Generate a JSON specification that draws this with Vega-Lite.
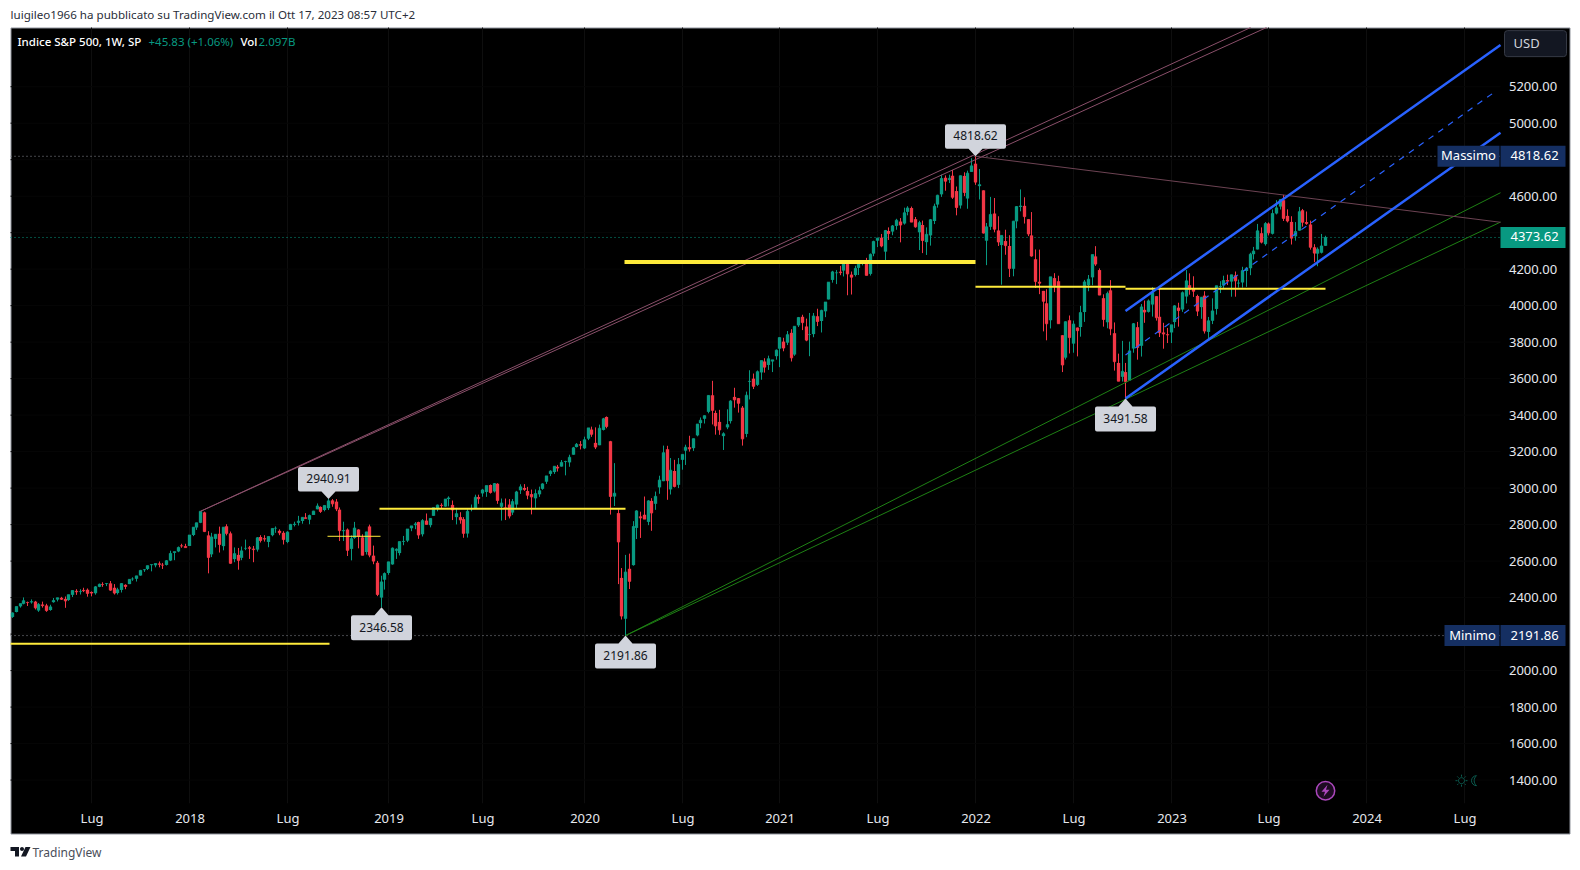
{"$schema":"https://vega.github.io/schema/vega-lite/v6.json","width":1559,"height":806,"autosize":"none","padding":{"left":10.5,"top":27.5,"right":10.5,"bottom":36.5},"background":"#ffffff","config":{"view":{"fill":"#000000","stroke":"#8f939c","strokeWidth":1},"font":"Noto Sans"},"title":{"text":"luigileo1966 ha pubblicato su TradingView.com il Ott 17, 2023 08:57 UTC+2","anchor":"start","frame":"group","offset":5,"fontSize":11.6,"fontWeight":"normal","color":"#2a2e39","font":"Noto Sans"},
"datasets":{
"candles":[
{"d":"2017-02-06","o":2294,"h":2319,"l":2289,"c":2316},{"d":"2017-02-13","o":2321,"h":2351,"l":2319,"c":2351},{"d":"2017-02-20","o":2352,"h":2367,"l":2345,"c":2367},{"d":"2017-02-27","o":2366,"h":2401,"l":2363,"c":2383},{"d":"2017-03-06","o":2375,"h":2378,"l":2354,"c":2373},{"d":"2017-03-13","o":2374,"h":2390,"l":2367,"c":2378},{"d":"2017-03-20","o":2378,"h":2382,"l":2335,"c":2344},{"d":"2017-03-27","o":2329,"h":2370,"l":2322,"c":2363},{"d":"2017-04-03","o":2362,"h":2378,"l":2345,"c":2356},{"d":"2017-04-10","o":2357,"h":2366,"l":2322,"c":2329},{"d":"2017-04-17","o":2332,"h":2361,"l":2328,"c":2349},{"d":"2017-04-24","o":2375,"h":2398,"l":2372,"c":2384},{"d":"2017-05-01","o":2389,"h":2400,"l":2379,"c":2399},{"d":"2017-05-08","o":2399,"h":2404,"l":2387,"c":2391},{"d":"2017-05-15","o":2393,"h":2406,"l":2344,"c":2382},{"d":"2017-05-22","o":2387,"h":2416,"l":2382,"c":2416},{"d":"2017-05-29","o":2415,"h":2440,"l":2403,"c":2439},{"d":"2017-06-05","o":2437,"h":2446,"l":2415,"c":2432},{"d":"2017-06-12","o":2432,"h":2446,"l":2417,"c":2433},{"d":"2017-06-19","o":2442,"h":2454,"l":2430,"c":2438},{"d":"2017-06-26","o":2443,"h":2450,"l":2405,"c":2423},{"d":"2017-07-03","o":2431,"h":2434,"l":2407,"c":2425},{"d":"2017-07-10","o":2424,"h":2463,"l":2416,"c":2459},{"d":"2017-07-17","o":2459,"h":2477,"l":2457,"c":2473},{"d":"2017-07-24","o":2473,"h":2484,"l":2459,"c":2472},{"d":"2017-07-31","o":2475,"h":2480,"l":2463,"c":2477},{"d":"2017-08-07","o":2478,"h":2491,"l":2437,"c":2441},{"d":"2017-08-14","o":2454,"h":2474,"l":2417,"c":2425},{"d":"2017-08-21","o":2425,"h":2454,"l":2417,"c":2443},{"d":"2017-08-28","o":2442,"h":2480,"l":2428,"c":2477},{"d":"2017-09-04","o":2470,"h":2473,"l":2446,"c":2461},{"d":"2017-09-11","o":2474,"h":2501,"l":2474,"c":2500},{"d":"2017-09-18","o":2502,"h":2511,"l":2492,"c":2502},{"d":"2017-09-25","o":2503,"h":2520,"l":2488,"c":2519},{"d":"2017-10-02","o":2521,"h":2552,"l":2520,"c":2549},{"d":"2017-10-09","o":2551,"h":2556,"l":2541,"c":2553},{"d":"2017-10-16","o":2557,"h":2576,"l":2551,"c":2575},{"d":"2017-10-23","o":2578,"h":2582,"l":2544,"c":2581},{"d":"2017-10-30","o":2577,"h":2588,"l":2566,"c":2587},{"d":"2017-11-06","o":2587,"h":2598,"l":2566,"c":2582},{"d":"2017-11-13","o":2579,"h":2590,"l":2557,"c":2578},{"d":"2017-11-20","o":2579,"h":2606,"l":2576,"c":2602},{"d":"2017-11-27","o":2603,"h":2657,"l":2600,"c":2642},{"d":"2017-12-04","o":2645,"h":2652,"l":2605,"c":2652},{"d":"2017-12-11","o":2653,"h":2680,"l":2649,"c":2675},{"d":"2017-12-18","o":2685,"h":2695,"l":2673,"c":2683},{"d":"2017-12-25","o":2682,"h":2695,"l":2673,"c":2674},
{"d":"2018-01-01","o":2683,"h":2743,"l":2683,"c":2743},{"d":"2018-01-08","o":2743,"h":2787,"l":2737,"c":2786},{"d":"2018-01-15","o":2784,"h":2811,"l":2771,"c":2810},{"d":"2018-01-22","o":2810,"h":2873,"l":2808,"c":2873},{"d":"2018-01-29","o":2867,"h":2871,"l":2759,"c":2762},{"d":"2018-02-05","o":2741,"h":2764,"l":2533,"c":2620},{"d":"2018-02-12","o":2637,"h":2755,"l":2622,"c":2732},{"d":"2018-02-19","o":2722,"h":2748,"l":2675,"c":2747},{"d":"2018-02-26","o":2750,"h":2789,"l":2647,"c":2691},{"d":"2018-03-05","o":2682,"h":2786,"l":2659,"c":2786},{"d":"2018-03-12","o":2791,"h":2802,"l":2741,"c":2752},{"d":"2018-03-19","o":2752,"h":2762,"l":2585,"c":2588},{"d":"2018-03-26","o":2611,"h":2675,"l":2594,"c":2641},{"d":"2018-04-02","o":2634,"h":2672,"l":2553,"c":2604},{"d":"2018-04-09","o":2618,"h":2680,"l":2605,"c":2656},{"d":"2018-04-16","o":2670,"h":2718,"l":2660,"c":2670},{"d":"2018-04-23","o":2675,"h":2683,"l":2612,"c":2670},{"d":"2018-04-30","o":2668,"h":2683,"l":2594,"c":2663},{"d":"2018-05-07","o":2663,"h":2732,"l":2652,"c":2728},{"d":"2018-05-14","o":2732,"h":2742,"l":2702,"c":2713},{"d":"2018-05-21","o":2725,"h":2742,"l":2707,"c":2721},{"d":"2018-05-28","o":2705,"h":2736,"l":2676,"c":2735},{"d":"2018-06-04","o":2742,"h":2779,"l":2736,"c":2779},{"d":"2018-06-11","o":2780,"h":2790,"l":2755,"c":2780},{"d":"2018-06-18","o":2766,"h":2774,"l":2742,"c":2755},{"d":"2018-06-25","o":2755,"h":2764,"l":2691,"c":2718},{"d":"2018-07-02","o":2705,"h":2764,"l":2698,"c":2759},{"d":"2018-07-09","o":2771,"h":2804,"l":2770,"c":2801},{"d":"2018-07-16","o":2798,"h":2816,"l":2790,"c":2802},{"d":"2018-07-23","o":2810,"h":2848,"l":2795,"c":2819},{"d":"2018-07-30","o":2820,"h":2841,"l":2805,"c":2840},{"d":"2018-08-06","o":2840,"h":2863,"l":2833,"c":2833},{"d":"2018-08-13","o":2827,"h":2855,"l":2802,"c":2850},{"d":"2018-08-20","o":2853,"h":2876,"l":2853,"c":2874},{"d":"2018-08-27","o":2884,"h":2916,"l":2884,"c":2902},{"d":"2018-09-03","o":2897,"h":2900,"l":2864,"c":2872},{"d":"2018-09-10","o":2880,"h":2906,"l":2873,"c":2905},{"d":"2018-09-17","o":2890,"h":2940.91,"l":2880,"c":2930},{"d":"2018-09-24","o":2933,"h":2940,"l":2898,"c":2914},{"d":"2018-10-01","o":2926,"h":2940,"l":2874,"c":2886},{"d":"2018-10-08","o":2882,"h":2894,"l":2710,"c":2767},{"d":"2018-10-15","o":2764,"h":2816,"l":2710,"c":2768},{"d":"2018-10-22","o":2773,"h":2779,"l":2628,"c":2659},{"d":"2018-10-29","o":2667,"h":2741,"l":2604,"c":2723},{"d":"2018-11-05","o":2727,"h":2815,"l":2722,"c":2781},{"d":"2018-11-12","o":2773,"h":2775,"l":2670,"c":2736},{"d":"2018-11-19","o":2730,"h":2747,"l":2631,"c":2632},{"d":"2018-11-26","o":2650,"h":2761,"l":2636,"c":2760},{"d":"2018-12-03","o":2790,"h":2800,"l":2621,"c":2633},{"d":"2018-12-10","o":2630,"h":2685,"l":2583,"c":2600},{"d":"2018-12-17","o":2591,"h":2601,"l":2408,"c":2417},{"d":"2018-12-24","o":2400,"h":2520,"l":2346.58,"c":2486},{"d":"2018-12-31","o":2498,"h":2538,"l":2444,"c":2532},
{"d":"2019-01-07","o":2535,"h":2597,"l":2525,"c":2596},{"d":"2019-01-14","o":2582,"h":2675,"l":2580,"c":2671},{"d":"2019-01-21","o":2657,"h":2670,"l":2612,"c":2665},{"d":"2019-01-28","o":2644,"h":2708,"l":2631,"c":2707},{"d":"2019-02-04","o":2706,"h":2738,"l":2687,"c":2708},{"d":"2019-02-11","o":2712,"h":2775,"l":2704,"c":2776},{"d":"2019-02-18","o":2780,"h":2793,"l":2764,"c":2793},{"d":"2019-02-25","o":2797,"h":2814,"l":2775,"c":2804},{"d":"2019-03-04","o":2814,"h":2816,"l":2722,"c":2743},{"d":"2019-03-11","o":2747,"h":2830,"l":2735,"c":2822},{"d":"2019-03-18","o":2822,"h":2861,"l":2800,"c":2801},{"d":"2019-03-25","o":2797,"h":2836,"l":2785,"c":2834},{"d":"2019-04-01","o":2848,"h":2893,"l":2848,"c":2893},{"d":"2019-04-08","o":2888,"h":2910,"l":2873,"c":2907},{"d":"2019-04-15","o":2908,"h":2917,"l":2891,"c":2905},{"d":"2019-04-22","o":2899,"h":2940,"l":2898,"c":2940},{"d":"2019-04-29","o":2940,"h":2955,"l":2900,"c":2946},{"d":"2019-05-06","o":2908,"h":2932,"l":2825,"c":2881},{"d":"2019-05-13","o":2841,"h":2892,"l":2801,"c":2860},{"d":"2019-05-20","o":2841,"h":2868,"l":2805,"c":2826},{"d":"2019-05-27","o":2830,"h":2841,"l":2728,"c":2752},{"d":"2019-06-03","o":2751,"h":2884,"l":2729,"c":2873},{"d":"2019-06-10","o":2885,"h":2910,"l":2873,"c":2887},{"d":"2019-06-17","o":2889,"h":2964,"l":2887,"c":2950},{"d":"2019-06-24","o":2951,"h":2964,"l":2914,"c":2942},{"d":"2019-07-01","o":2971,"h":2996,"l":2953,"c":2990},{"d":"2019-07-08","o":2979,"h":3014,"l":2952,"c":3014},{"d":"2019-07-15","o":3017,"h":3020,"l":2970,"c":2976},{"d":"2019-07-22","o":2982,"h":3028,"l":2976,"c":3025},{"d":"2019-07-29","o":3024,"h":3027,"l":2914,"c":2932},{"d":"2019-08-05","o":2898,"h":2943,"l":2822,"c":2918},{"d":"2019-08-12","o":2894,"h":2943,"l":2825,"c":2889},{"d":"2019-08-19","o":2910,"h":2940,"l":2834,"c":2847},{"d":"2019-08-26","o":2866,"h":2940,"l":2853,"c":2926},{"d":"2019-09-02","o":2910,"h":2985,"l":2891,"c":2979},{"d":"2019-09-09","o":2988,"h":3021,"l":2968,"c":3007},{"d":"2019-09-16","o":3001,"h":3022,"l":2985,"c":2992},{"d":"2019-09-23","o":2984,"h":3007,"l":2939,"c":2961},{"d":"2019-09-30","o":2967,"h":2992,"l":2856,"c":2952},{"d":"2019-10-07","o":2944,"h":2993,"l":2892,"c":2970},{"d":"2019-10-14","o":2966,"h":3008,"l":2952,"c":2986},{"d":"2019-10-21","o":2996,"h":3027,"l":2991,"c":3023},{"d":"2019-10-28","o":3035,"h":3067,"l":3023,"c":3067},{"d":"2019-11-04","o":3078,"h":3098,"l":3066,"c":3093},{"d":"2019-11-11","o":3088,"h":3120,"l":3078,"c":3120},{"d":"2019-11-18","o":3117,"h":3127,"l":3091,"c":3110},{"d":"2019-11-25","o":3118,"h":3154,"l":3118,"c":3141},{"d":"2019-12-02","o":3144,"h":3150,"l":3070,"c":3146},{"d":"2019-12-09","o":3141,"h":3183,"l":3117,"c":3169},{"d":"2019-12-16","o":3183,"h":3226,"l":3183,"c":3221},{"d":"2019-12-23","o":3225,"h":3247,"l":3223,"c":3240},{"d":"2019-12-30","o":3240,"h":3258,"l":3212,"c":3235},
{"d":"2020-01-06","o":3218,"h":3282,"l":3214,"c":3265},{"d":"2020-01-13","o":3271,"h":3330,"l":3263,"c":3330},{"d":"2020-01-20","o":3321,"h":3337,"l":3281,"c":3295},{"d":"2020-01-27","o":3248,"h":3333,"l":3214,"c":3225},{"d":"2020-02-03","o":3235,"h":3348,"l":3235,"c":3328},{"d":"2020-02-10","o":3319,"h":3385,"l":3316,"c":3380},{"d":"2020-02-17","o":3390,"h":3393,"l":3328,"c":3338},{"d":"2020-02-24","o":3257,"h":3259,"l":2855,"c":2954},{"d":"2020-03-02","o":2954,"h":3137,"l":2902,"c":2972},{"d":"2020-03-09","o":2863,"h":2883,"l":2474,"c":2705},{"d":"2020-03-16","o":2508,"h":2562,"l":2280,"c":2299},{"d":"2020-03-23","o":2284,"h":2634,"l":2191.86,"c":2540},{"d":"2020-03-30","o":2558,"h":2641,"l":2447,"c":2489},{"d":"2020-04-06","o":2578,"h":2819,"l":2575,"c":2790},{"d":"2020-04-13","o":2782,"h":2879,"l":2721,"c":2875},{"d":"2020-04-20","o":2845,"h":2871,"l":2727,"c":2837},{"d":"2020-04-27","o":2854,"h":2954,"l":2830,"c":2830},{"d":"2020-05-04","o":2815,"h":2934,"l":2797,"c":2930},{"d":"2020-05-11","o":2930,"h":2945,"l":2766,"c":2864},{"d":"2020-05-18","o":2914,"h":2981,"l":2881,"c":2955},{"d":"2020-05-25","o":3004,"h":3068,"l":2969,"c":3044},{"d":"2020-06-01","o":3038,"h":3233,"l":3038,"c":3194},{"d":"2020-06-08","o":3213,"h":3232,"l":2936,"c":3041},{"d":"2020-06-15","o":2993,"h":3165,"l":2965,"c":3098},{"d":"2020-06-22","o":3094,"h":3155,"l":3004,"c":3009},{"d":"2020-06-29","o":3018,"h":3165,"l":3000,"c":3130},{"d":"2020-07-06","o":3155,"h":3186,"l":3101,"c":3185},{"d":"2020-07-13","o":3205,"h":3238,"l":3127,"c":3224},{"d":"2020-07-20","o":3224,"h":3287,"l":3200,"c":3215},{"d":"2020-07-27","o":3219,"h":3272,"l":3204,"c":3271},{"d":"2020-08-03","o":3289,"h":3352,"l":3284,"c":3351},{"d":"2020-08-10","o":3356,"h":3387,"l":3328,"c":3372},{"d":"2020-08-17","o":3380,"h":3399,"l":3354,"c":3397},{"d":"2020-08-24","o":3418,"h":3509,"l":3410,"c":3508},{"d":"2020-08-31","o":3509,"h":3588,"l":3349,"c":3426},{"d":"2020-09-07","o":3412,"h":3425,"l":3293,"c":3341},{"d":"2020-09-14","o":3363,"h":3429,"l":3292,"c":3319},{"d":"2020-09-21","o":3285,"h":3306,"l":3209,"c":3298},{"d":"2020-09-28","o":3333,"h":3432,"l":3323,"c":3348},{"d":"2020-10-05","o":3367,"h":3482,"l":3354,"c":3477},{"d":"2020-10-12","o":3500,"h":3550,"l":3441,"c":3484},{"d":"2020-10-19","o":3493,"h":3494,"l":3414,"c":3465},{"d":"2020-10-26","o":3441,"h":3450,"l":3233,"c":3270},{"d":"2020-11-02","o":3297,"h":3529,"l":3279,"c":3509},{"d":"2020-11-09","o":3583,"h":3646,"l":3486,"c":3585},{"d":"2020-11-16","o":3600,"h":3628,"l":3543,"c":3558},{"d":"2020-11-23","o":3566,"h":3645,"l":3560,"c":3638},{"d":"2020-11-30","o":3634,"h":3699,"l":3594,"c":3699},{"d":"2020-12-07","o":3694,"h":3712,"l":3633,"c":3663},{"d":"2020-12-14","o":3675,"h":3726,"l":3648,"c":3709},{"d":"2020-12-21","o":3694,"h":3703,"l":3636,"c":3703},{"d":"2020-12-28","o":3723,"h":3760,"l":3704,"c":3756},
{"d":"2021-01-04","o":3764,"h":3827,"l":3663,"c":3825},{"d":"2021-01-11","o":3803,"h":3824,"l":3750,"c":3768},{"d":"2021-01-18","o":3797,"h":3861,"l":3784,"c":3841},{"d":"2021-01-25","o":3851,"h":3871,"l":3694,"c":3714},{"d":"2021-02-01","o":3732,"h":3887,"l":3725,"c":3887},{"d":"2021-02-08","o":3892,"h":3938,"l":3883,"c":3935},{"d":"2021-02-15","o":3939,"h":3950,"l":3866,"c":3907},{"d":"2021-02-22","o":3886,"h":3929,"l":3805,"c":3811},{"d":"2021-03-01","o":3842,"h":3960,"l":3723,"c":3842},{"d":"2021-03-08","o":3844,"h":3960,"l":3827,"c":3943},{"d":"2021-03-15","o":3942,"h":3983,"l":3888,"c":3913},{"d":"2021-03-22","o":3916,"h":3978,"l":3853,"c":3974},{"d":"2021-03-29","o":3969,"h":4020,"l":3937,"c":4020},{"d":"2021-04-05","o":4034,"h":4129,"l":4034,"c":4129},{"d":"2021-04-12","o":4141,"h":4191,"l":4126,"c":4185},{"d":"2021-04-19","o":4179,"h":4195,"l":4118,"c":4180},{"d":"2021-04-26","o":4186,"h":4218,"l":4167,"c":4181},{"d":"2021-05-03","o":4192,"h":4238,"l":4160,"c":4233},{"d":"2021-05-10","o":4228,"h":4236,"l":4057,"c":4174},{"d":"2021-05-17","o":4170,"h":4187,"l":4061,"c":4156},{"d":"2021-05-24","o":4168,"h":4219,"l":4160,"c":4204},{"d":"2021-05-31","o":4207,"h":4234,"l":4168,"c":4230},{"d":"2021-06-07","o":4230,"h":4250,"l":4221,"c":4247},{"d":"2021-06-14","o":4248,"h":4262,"l":4165,"c":4166},{"d":"2021-06-21","o":4174,"h":4286,"l":4165,"c":4281},{"d":"2021-06-28","o":4285,"h":4356,"l":4271,"c":4352},{"d":"2021-07-05","o":4356,"h":4372,"l":4321,"c":4370},{"d":"2021-07-12","o":4372,"h":4393,"l":4320,"c":4327},{"d":"2021-07-19","o":4296,"h":4415,"l":4233,"c":4412},{"d":"2021-07-26","o":4409,"h":4429,"l":4360,"c":4395},{"d":"2021-08-02","o":4406,"h":4442,"l":4386,"c":4437},{"d":"2021-08-09","o":4437,"h":4476,"l":4416,"c":4468},{"d":"2021-08-16","o":4461,"h":4480,"l":4347,"c":4442},{"d":"2021-08-23","o":4450,"h":4537,"l":4444,"c":4509},{"d":"2021-08-30","o":4514,"h":4545,"l":4495,"c":4535},{"d":"2021-09-06","o":4535,"h":4543,"l":4457,"c":4458},{"d":"2021-09-13","o":4474,"h":4486,"l":4427,"c":4432},{"d":"2021-09-20","o":4402,"h":4465,"l":4305,"c":4455},{"d":"2021-09-27","o":4442,"h":4466,"l":4288,"c":4357},{"d":"2021-10-04","o":4348,"h":4429,"l":4278,"c":4391},{"d":"2021-10-11","o":4385,"h":4475,"l":4329,"c":4471},{"d":"2021-10-18","o":4464,"h":4559,"l":4447,"c":4545},{"d":"2021-10-25","o":4554,"h":4608,"l":4537,"c":4605},{"d":"2021-11-01","o":4610,"h":4718,"l":4596,"c":4697},{"d":"2021-11-08","o":4701,"h":4714,"l":4630,"c":4682},{"d":"2021-11-15","o":4689,"h":4718,"l":4672,"c":4698},{"d":"2021-11-22","o":4712,"h":4744,"l":4585,"c":4594},{"d":"2021-11-29","o":4628,"h":4653,"l":4495,"c":4538},{"d":"2021-12-06","o":4549,"h":4713,"l":4532,"c":4712},{"d":"2021-12-13","o":4711,"h":4731,"l":4600,"c":4620},{"d":"2021-12-20","o":4587,"h":4740,"l":4531,"c":4726},{"d":"2021-12-27","o":4733,"h":4808,"l":4733,"c":4766},
{"d":"2022-01-03","o":4778,"h":4818.62,"l":4662,"c":4677},{"d":"2022-01-10","o":4655,"h":4749,"l":4582,"c":4663},{"d":"2022-01-17","o":4632,"h":4632,"l":4395,"c":4398},{"d":"2022-01-24","o":4356,"h":4453,"l":4222,"c":4432},{"d":"2022-01-31","o":4432,"h":4596,"l":4415,"c":4500},{"d":"2022-02-07","o":4505,"h":4590,"l":4402,"c":4419},{"d":"2022-02-14","o":4412,"h":4490,"l":4327,"c":4349},{"d":"2022-02-21","o":4332,"h":4385,"l":4115,"c":4385},{"d":"2022-02-28","o":4354,"h":4416,"l":4279,"c":4329},{"d":"2022-03-07","o":4327,"h":4386,"l":4157,"c":4204},{"d":"2022-03-14","o":4202,"h":4465,"l":4161,"c":4463},{"d":"2022-03-21","o":4462,"h":4546,"l":4424,"c":4543},{"d":"2022-03-28","o":4541,"h":4637,"l":4517,"c":4546},{"d":"2022-04-04","o":4547,"h":4594,"l":4450,"c":4488},{"d":"2022-04-11","o":4474,"h":4474,"l":4381,"c":4393},{"d":"2022-04-18","o":4385,"h":4513,"l":4268,"c":4272},{"d":"2022-04-25","o":4255,"h":4308,"l":4097,"c":4132},{"d":"2022-05-02","o":4131,"h":4307,"l":4063,"c":4123},{"d":"2022-05-09","o":4081,"h":4081,"l":3859,"c":4024},{"d":"2022-05-16","o":4013,"h":4090,"l":3810,"c":3901},{"d":"2022-05-23","o":3920,"h":4158,"l":3875,"c":4158},{"d":"2022-05-30","o":4151,"h":4178,"l":4074,"c":4109},{"d":"2022-06-06","o":4134,"h":4164,"l":3900,"c":3901},{"d":"2022-06-13","o":3838,"h":3838,"l":3636,"c":3675},{"d":"2022-06-20","o":3715,"h":3914,"l":3705,"c":3912},{"d":"2022-06-27","o":3920,"h":3946,"l":3738,"c":3825},{"d":"2022-07-04","o":3792,"h":3918,"l":3742,"c":3899},{"d":"2022-07-11","o":3880,"h":3880,"l":3722,"c":3863},{"d":"2022-07-18","o":3883,"h":3999,"l":3830,"c":3962},{"d":"2022-07-25","o":3965,"h":4141,"l":3911,"c":4130},{"d":"2022-08-01","o":4112,"h":4168,"l":4079,"c":4145},{"d":"2022-08-08","o":4155,"h":4280,"l":4112,"c":4280},{"d":"2022-08-15","o":4270,"h":4326,"l":4218,"c":4228},{"d":"2022-08-22","o":4195,"h":4204,"l":4057,"c":4058},{"d":"2022-08-29","o":4041,"h":4062,"l":3885,"c":3924},{"d":"2022-09-05","o":3909,"h":4077,"l":3876,"c":4067},{"d":"2022-09-12","o":4084,"h":4140,"l":3838,"c":3873},{"d":"2022-09-19","o":3849,"h":3908,"l":3644,"c":3693},{"d":"2022-09-26","o":3686,"h":3737,"l":3585,"c":3586},{"d":"2022-10-03","o":3610,"h":3807,"l":3584,"c":3640},{"d":"2022-10-10","o":3636,"h":3686,"l":3491.58,"c":3583},{"d":"2022-10-17","o":3589,"h":3803,"l":3590,"c":3752},{"d":"2022-10-24","o":3765,"h":3905,"l":3742,"c":3901},{"d":"2022-10-31","o":3882,"h":3911,"l":3704,"c":3771},{"d":"2022-11-07","o":3780,"h":4009,"l":3721,"c":3993},{"d":"2022-11-14","o":3977,"h":4028,"l":3906,"c":3965},{"d":"2022-11-21","o":3966,"h":4034,"l":3962,"c":4026},{"d":"2022-11-28","o":4006,"h":4101,"l":3940,"c":4072},{"d":"2022-12-05","o":4052,"h":4052,"l":3918,"c":3934},{"d":"2022-12-12","o":3939,"h":4101,"l":3828,"c":3852},{"d":"2022-12-19","o":3853,"h":3906,"l":3764,"c":3845},{"d":"2022-12-26","o":3843,"h":3878,"l":3795,"c":3840},
{"d":"2023-01-02","o":3853,"h":3895,"l":3795,"c":3895},{"d":"2023-01-09","o":3910,"h":4003,"l":3877,"c":3999},{"d":"2023-01-16","o":3989,"h":4016,"l":3885,"c":3973},{"d":"2023-01-23","o":3979,"h":4078,"l":3966,"c":4071},{"d":"2023-01-30","o":4050,"h":4195,"l":4012,"c":4136},{"d":"2023-02-06","o":4112,"h":4177,"l":4060,"c":4090},{"d":"2023-02-13","o":4096,"h":4161,"l":4048,"c":4079},{"d":"2023-02-20","o":4053,"h":4060,"l":3943,"c":3970},{"d":"2023-02-27","o":3992,"h":4048,"l":3928,"c":4046},{"d":"2023-03-06","o":4055,"h":4079,"l":3847,"c":3861},{"d":"2023-03-13","o":3856,"h":3938,"l":3809,"c":3917},{"d":"2023-03-20","o":3917,"h":4040,"l":3899,"c":3971},{"d":"2023-03-27","o":3982,"h":4110,"l":3951,"c":4109},{"d":"2023-04-03","o":4102,"h":4134,"l":4069,"c":4105},{"d":"2023-04-10","o":4110,"h":4164,"l":4091,"c":4138},{"d":"2023-04-17","o":4140,"h":4170,"l":4113,"c":4134},{"d":"2023-04-24","o":4132,"h":4170,"l":4049,"c":4169},{"d":"2023-05-01","o":4166,"h":4187,"l":4049,"c":4136},{"d":"2023-05-08","o":4123,"h":4143,"l":4099,"c":4124},{"d":"2023-05-15","o":4127,"h":4213,"l":4099,"c":4192},{"d":"2023-05-22","o":4190,"h":4212,"l":4103,"c":4205},{"d":"2023-05-29","o":4205,"h":4290,"l":4167,"c":4282},{"d":"2023-06-05","o":4282,"h":4322,"l":4253,"c":4299},{"d":"2023-06-12","o":4308,"h":4448,"l":4308,"c":4410},{"d":"2023-06-19","o":4397,"h":4429,"l":4341,"c":4348},{"d":"2023-06-26","o":4337,"h":4458,"l":4329,"c":4450},{"d":"2023-07-03","o":4450,"h":4456,"l":4385,"c":4399},{"d":"2023-07-10","o":4394,"h":4527,"l":4390,"c":4505},{"d":"2023-07-17","o":4505,"h":4578,"l":4500,"c":4536},{"d":"2023-07-24","o":4543,"h":4582,"l":4527,"c":4582},{"d":"2023-07-31","o":4578,"h":4607,"l":4464,"c":4478},{"d":"2023-08-07","o":4492,"h":4528,"l":4456,"c":4464},{"d":"2023-08-14","o":4459,"h":4490,"l":4335,"c":4370},{"d":"2023-08-21","o":4380,"h":4458,"l":4356,"c":4406},{"d":"2023-08-28","o":4411,"h":4541,"l":4411,"c":4515},{"d":"2023-09-04","o":4523,"h":4530,"l":4433,"c":4457},{"d":"2023-09-11","o":4458,"h":4516,"l":4443,"c":4450},{"d":"2023-09-18","o":4445,"h":4466,"l":4307,"c":4320},{"d":"2023-09-25","o":4320,"h":4337,"l":4238,"c":4288},{"d":"2023-10-02","o":4285,"h":4319,"l":4216,"c":4309},{"d":"2023-10-09","o":4290,"h":4393,"l":4286,"c":4327},{"d":"2023-10-16","o":4328,"h":4383,"l":4327,"c":4373.62}
],
"drawings":[
{"s":"rose","d1":"2018-01-22","d2":"2023-05-29","p1":2873,"p2":5524},
{"s":"rose","d1":"2018-01-22","d2":"2023-06-29","p1":2873,"p2":5524},
{"s":"roseDown","d1":"2022-01-03","d2":"2024-09-05","p1":4818.62,"p2":4457},
{"s":"green","d1":"2020-03-23","d2":"2024-09-05","p1":2191.86,"p2":4619},
{"s":"green","d1":"2020-03-23","d2":"2024-09-05","p1":2191.86,"p2":4458},
{"s":"blue","d1":"2022-10-10","d2":"2024-09-05","p1":3491.58,"p2":4948},
{"s":"blue","d1":"2022-10-10","d2":"2024-09-05","p1":3971,"p2":5428},
{"s":"blueDash","d1":"2022-10-10","d2":"2024-08-30","p1":3730,"p2":5178},
{"s":"y2","d1":"2017-02-03","d2":"2018-09-18","p1":2147,"p2":2147},
{"s":"y1","d1":"2018-09-16","d2":"2018-12-23","p1":2736,"p2":2736},
{"s":"y2","d1":"2018-12-21","d2":"2020-03-23","p1":2887,"p2":2887},
{"s":"y4","d1":"2020-03-21","d2":"2022-01-03","p1":4239,"p2":4239},
{"s":"y2","d1":"2022-01-03","d2":"2022-10-10","p1":4104,"p2":4104},
{"s":"y2","d1":"2022-10-10","d2":"2023-10-16","p1":4093,"p2":4093}
],
"callouts":[
{"t":"2940.91","d":"2018-09-17","p":2940.91,"tip":"down"},
{"t":"4818.62","d":"2022-01-03","p":4818.62,"tip":"down"},
{"t":"2346.58","d":"2018-12-24","p":2346.58,"tip":"up"},
{"t":"2191.86","d":"2020-03-23","p":2191.86,"tip":"up"},
{"t":"3491.58","d":"2022-10-10","p":3491.58,"tip":"up"}
],
"legendWhite":[
{"t":"Indice S&P 500, 1W, SP","d":"2017-02-16","p":5442},
{"t":"Vol","d":"2018-04-07","p":5442}
],
"legendTeal":[
{"t":"+45.83 (+1.06%)","d":"2017-10-18","p":5442},
{"t":"2.097B","d":"2018-05-10","p":5442}
],
"gridX":[{"d":"2017-07-03"},{"d":"2018-01-01"},{"d":"2018-07-02"},{"d":"2019-01-07"},{"d":"2019-07-01"},{"d":"2020-01-06"},{"d":"2020-07-06"},{"d":"2021-01-04"},{"d":"2021-07-05"},{"d":"2022-01-03"},{"d":"2022-07-04"},{"d":"2023-01-02"},{"d":"2023-07-03"},{"d":"2024-01-01"},{"d":"2024-07-01"}],
"gridY":[{"p":1400},{"p":1600},{"p":1800},{"p":2000},{"p":2200},{"p":2400},{"p":2600},{"p":2800},{"p":3000},{"p":3200},{"p":3400},{"p":3600},{"p":3800},{"p":4000},{"p":4200},{"p":4400},{"p":4600},{"p":4800},{"p":5000},{"p":5200}]
},
"layer":[
{"data":{"name":"gridX"},"mark":{"type":"rule","stroke":"#0e0e0e","strokeWidth":1},"encoding":{"x":{"field":"d","type":"temporal"},"y":{"datum":1272.8,"type":"quantitative"},"y2":{"datum":5524.4}}},
{"data":{"name":"gridY"},"mark":{"type":"rule","stroke":"#060606","strokeWidth":1},"encoding":{"y":{"field":"p","type":"quantitative"},"x":{"datum":{"year":2017,"month":2,"date":3,"utc":true},"type":"temporal"},"x2":{"datum":{"year":2024,"month":9,"date":5,"utc":true}}}},
{"data":{"values":[{"p":4818.62}]},"mark":{"type":"rule","stroke":"#8a8d94","strokeDash":[1,3],"strokeWidth":1},"encoding":{"y":{"field":"p","type":"quantitative"},"x":{"datum":{"year":2017,"month":2,"date":3,"utc":true},"type":"temporal"},"x2":{"datum":{"year":2024,"month":9,"date":5,"utc":true}}}},
{"data":{"values":[{"p":2191.86}]},"mark":{"type":"rule","stroke":"#8a8d94","strokeDash":[1,3],"strokeWidth":1},"encoding":{"y":{"field":"p","type":"quantitative"},"x":{"datum":{"year":2017,"month":2,"date":3,"utc":true},"type":"temporal"},"x2":{"datum":{"year":2024,"month":9,"date":5,"utc":true}}}},
{"data":{"values":[{"p":4373.62}]},"mark":{"type":"rule","stroke":"#089981","strokeDash":[1,3],"strokeWidth":1},"encoding":{"y":{"field":"p","type":"quantitative"},"x":{"datum":{"year":2017,"month":2,"date":3,"utc":true},"type":"temporal"},"x2":{"datum":{"year":2024,"month":9,"date":5,"utc":true}}}},
{"data":{"name":"candles"},"mark":{"type":"rule","strokeWidth":1},"encoding":{
"x":{"field":"d","type":"temporal","title":null,"scale":{"type":"utc","round":true,"nice":false,"padding":0,"domain":[{"year":2017,"month":2,"date":2,"hours":7,"utc":true},{"year":2025,"month":1,"date":12,"hours":7,"utc":true}]},
"axis":{"values":["2017-07-03","2018-01-01","2018-07-02","2019-01-07","2019-07-01","2020-01-06","2020-07-06","2021-01-04","2021-07-05","2022-01-03","2022-07-04","2023-01-02","2023-07-03","2024-01-01","2024-07-01"],"labelExpr":"utcmonth(datum.value)==0?utcyear(datum.value)+'':'Lug'","offset":-30,"zindex":1,"domain":false,"ticks":false,"grid":false,"labelFontSize":13,"labelColor":"#e6e8ee","labelPadding":9,"labelFont":"Noto Sans","labelFlush":false,"encode":{"labels":{"update":{"fontWeight":{"signal":"utcmonth(datum.value)==0?700:400"}}}}}},
"y":{"field":"l","type":"quantitative","title":null,"scale":{"domain":[1107.2,5524.4],"nice":false,"zero":false,"padding":0},
"axis":{"orient":"right","values":[1400,1600,1800,2000,2400,2600,2800,3000,3200,3400,3600,3800,4000,4200,4600,5000,5200],"format":".2f","offset":-70,"zindex":1,"domain":false,"ticks":false,"grid":false,"labelFontSize":13,"labelColor":"#e6e8ee","labelPadding":9,"labelAlign":"left","labelFont":"Noto Sans","labelFlush":false,"labelOverlap":false}},
"y2":{"field":"h"},
"color":{"condition":{"test":"datum.c>=datum.o","value":"#089981"},"value":"#f23645"}}},
{"data":{"name":"candles"},"mark":{"type":"bar","size":3.3},"encoding":{"x":{"field":"d","type":"temporal"},"y":{"field":"o","type":"quantitative"},"y2":{"field":"c"},"color":{"condition":{"test":"datum.c>=datum.o","value":"#089981"},"value":"#f23645"}}},
{"data":{"name":"candles"},"mark":{"type":"tick","size":3,"thickness":1,"orient":"horizontal"},"encoding":{"x":{"field":"d","type":"temporal"},"y":{"field":"c","type":"quantitative"},"color":{"condition":{"test":"datum.c>=datum.o","value":"#089981"},"value":"#f23645"}}},
{"data":{"name":"drawings"},"transform":[{"filter":"datum.s=='green'"}],"mark":{"type":"rule","stroke":"#1e8014","strokeWidth":1},"encoding":{"x":{"field":"d1","type":"temporal"},"x2":{"field":"d2"},"y":{"field":"p1","type":"quantitative"},"y2":{"field":"p2"}}},
{"data":{"name":"drawings"},"transform":[{"filter":"datum.s=='rose'"}],"mark":{"type":"rule","stroke":"#8a4f6a","strokeWidth":1},"encoding":{"x":{"field":"d1","type":"temporal"},"x2":{"field":"d2"},"y":{"field":"p1","type":"quantitative"},"y2":{"field":"p2"}}},
{"data":{"name":"drawings"},"transform":[{"filter":"datum.s=='roseDown'"}],"mark":{"type":"rule","stroke":"#6d4353","strokeWidth":1},"encoding":{"x":{"field":"d1","type":"temporal"},"x2":{"field":"d2"},"y":{"field":"p1","type":"quantitative"},"y2":{"field":"p2"}}},
{"data":{"name":"drawings"},"transform":[{"filter":"datum.s=='y1'"}],"mark":{"type":"rule","stroke":"#ffeb3b","strokeWidth":1},"encoding":{"x":{"field":"d1","type":"temporal"},"x2":{"field":"d2"},"y":{"field":"p1","type":"quantitative"},"y2":{"field":"p2"}}},
{"data":{"name":"drawings"},"transform":[{"filter":"datum.s=='y2'"}],"mark":{"type":"rule","stroke":"#ffeb3b","strokeWidth":2},"encoding":{"x":{"field":"d1","type":"temporal"},"x2":{"field":"d2"},"y":{"field":"p1","type":"quantitative"},"y2":{"field":"p2"}}},
{"data":{"name":"drawings"},"transform":[{"filter":"datum.s=='y4'"}],"mark":{"type":"rule","stroke":"#ffeb3b","strokeWidth":4},"encoding":{"x":{"field":"d1","type":"temporal"},"x2":{"field":"d2"},"y":{"field":"p1","type":"quantitative"},"y2":{"field":"p2"}}},
{"data":{"name":"drawings"},"transform":[{"filter":"datum.s=='blue'"}],"mark":{"type":"rule","stroke":"#2962ff","strokeWidth":2.5},"encoding":{"x":{"field":"d1","type":"temporal"},"x2":{"field":"d2"},"y":{"field":"p1","type":"quantitative"},"y2":{"field":"p2"}}},
{"data":{"name":"drawings"},"transform":[{"filter":"datum.s=='blueDash'"}],"mark":{"type":"rule","stroke":"#2962ff","strokeWidth":1.2,"strokeDash":[6,6]},"encoding":{"x":{"field":"d1","type":"temporal"},"x2":{"field":"d2"},"y":{"field":"p1","type":"quantitative"},"y2":{"field":"p2"}}},
{"mark":{"type":"rule","stroke":"#363a45","strokeWidth":1},"encoding":{"x":{"datum":{"year":2024,"month":9,"date":5,"utc":true},"type":"temporal"}}},
{"mark":{"type":"rule","stroke":"#363a45","strokeWidth":1},"encoding":{"y":{"datum":1272.8,"type":"quantitative"}}},
{"data":{"name":"callouts"},"transform":[{"filter":"datum.tip=='down'"}],"mark":{"type":"point","filled":true,"fill":"#d1d4dc","opacity":1,"size":4,"strokeWidth":0,"shape":"M-28.5,-32H28.5Q30.5,-32 30.5,-30V-9.5Q30.5,-7.5 28.5,-7.5H7L0,0L-7,-7.5H-28.5Q-30.5,-7.5 -30.5,-9.5V-30Q-30.5,-32 -28.5,-32Z"},"encoding":{"x":{"field":"d","type":"temporal"},"y":{"field":"p","type":"quantitative"}}},
{"data":{"name":"callouts"},"transform":[{"filter":"datum.tip=='up'"}],"mark":{"type":"point","filled":true,"fill":"#d1d4dc","opacity":1,"size":4,"strokeWidth":0,"shape":"M-28.5,33H28.5Q30.5,33 30.5,31V10Q30.5,8 28.5,8H7L0,0L-7,8H-28.5Q-30.5,8 -30.5,10V31Q-30.5,33 -28.5,33Z"},"encoding":{"x":{"field":"d","type":"temporal"},"y":{"field":"p","type":"quantitative"}}},
{"data":{"name":"callouts"},"transform":[{"filter":"datum.tip=='down'"}],"mark":{"type":"text","dy":-20,"fontSize":12,"color":"#131722","font":"Noto Sans"},"encoding":{"x":{"field":"d","type":"temporal"},"y":{"field":"p","type":"quantitative"},"text":{"field":"t"}}},
{"data":{"name":"callouts"},"transform":[{"filter":"datum.tip=='up'"}],"mark":{"type":"text","dy":20.5,"fontSize":12,"color":"#131722","font":"Noto Sans"},"encoding":{"x":{"field":"d","type":"temporal"},"y":{"field":"p","type":"quantitative"},"text":{"field":"t"}}},
{"data":{"values":[{"p":4818.62,"t":"4818.62"},{"p":2191.86,"t":"2191.86"}]},"mark":{"type":"point","filled":true,"fill":"#152f62","opacity":1,"size":4,"strokeWidth":0,"shape":"M0,-10.5H65V10.5H0Z"},"encoding":{"x":{"datum":{"year":2024,"month":9,"date":5,"utc":true},"type":"temporal"},"y":{"field":"p","type":"quantitative"}}},
{"data":{"values":[{"p":4818.62,"t":"Massimo"}]},"mark":{"type":"point","filled":true,"fill":"#152f62","opacity":1,"size":4,"strokeWidth":0,"shape":"M-63,-10.5H-1V10.5H-63Z"},"encoding":{"x":{"datum":{"year":2024,"month":9,"date":5,"utc":true},"type":"temporal"},"y":{"field":"p","type":"quantitative"}}},
{"data":{"values":[{"p":2191.86,"t":"Minimo"}]},"mark":{"type":"point","filled":true,"fill":"#152f62","opacity":1,"size":4,"strokeWidth":0,"shape":"M-56,-10.5H-1V10.5H-56Z"},"encoding":{"x":{"datum":{"year":2024,"month":9,"date":5,"utc":true},"type":"temporal"},"y":{"field":"p","type":"quantitative"}}},
{"data":{"values":[{"p":4373.62,"t":"4373.62"}]},"mark":{"type":"point","filled":true,"fill":"#089981","opacity":1,"size":4,"strokeWidth":0,"shape":"M0,-10.5H65V10.5H0Z"},"encoding":{"x":{"datum":{"year":2024,"month":9,"date":5,"utc":true},"type":"temporal"},"y":{"field":"p","type":"quantitative"}}},
{"data":{"values":[{"p":4818.62,"t":"4818.62"},{"p":2191.86,"t":"2191.86"},{"p":4373.62,"t":"4373.62"}]},"mark":{"type":"text","align":"left","dx":10,"fontSize":13,"color":"#ffffff","font":"Noto Sans"},"encoding":{"x":{"datum":{"year":2024,"month":9,"date":5,"utc":true},"type":"temporal"},"y":{"field":"p","type":"quantitative"},"text":{"field":"t"}}},
{"data":{"values":[{"p":4818.62,"t":"Massimo"}]},"mark":{"type":"text","align":"center","dx":-32,"fontSize":13,"color":"#ffffff","font":"Noto Sans"},"encoding":{"x":{"datum":{"year":2024,"month":9,"date":5,"utc":true},"type":"temporal"},"y":{"field":"p","type":"quantitative"},"text":{"field":"t"}}},
{"data":{"values":[{"p":2191.86,"t":"Minimo"}]},"mark":{"type":"text","align":"center","dx":-28,"fontSize":13,"color":"#ffffff","font":"Noto Sans"},"encoding":{"x":{"datum":{"year":2024,"month":9,"date":5,"utc":true},"type":"temporal"},"y":{"field":"p","type":"quantitative"},"text":{"field":"t"}}},
{"data":{"values":[{"p":5436,"t":"USD"}]},"mark":{"type":"point","filled":true,"fill":"#131722","stroke":"#363a45","strokeWidth":1,"opacity":1,"size":4,"shape":"M7,-13H63Q66,-13 66,-10V10Q66,13 63,13H7Q4,13 4,10V-10Q4,-13 7,-13Z"},"encoding":{"x":{"datum":{"year":2024,"month":9,"date":5,"utc":true},"type":"temporal"},"y":{"field":"p","type":"quantitative"}}},
{"data":{"values":[{"p":5436,"t":"USD"}]},"mark":{"type":"text","align":"left","dx":13,"fontSize":13,"color":"#d1d4dc","font":"Noto Sans"},"encoding":{"x":{"datum":{"year":2024,"month":9,"date":5,"utc":true},"type":"temporal"},"y":{"field":"p","type":"quantitative"},"text":{"field":"t"}}},
{"data":{"name":"legendWhite"},"mark":{"type":"text","align":"left","fontSize":11.5,"fontWeight":500,"color":"#ffffff","font":"Noto Sans"},"encoding":{"x":{"field":"d","type":"temporal"},"y":{"field":"p","type":"quantitative"},"text":{"field":"t"}}},
{"data":{"name":"legendTeal"},"mark":{"type":"text","align":"left","fontSize":11.5,"color":"#089981","font":"Noto Sans"},"encoding":{"x":{"field":"d","type":"temporal"},"y":{"field":"p","type":"quantitative"},"text":{"field":"t"}}},
{"data":{"values":[{"d":"2023-10-16","p":1341.8}]},"mark":{"type":"point","shape":"circle","size":340,"filled":true,"fill":"#1d0b22","stroke":"#ab47bc","strokeWidth":1.5,"opacity":1},"encoding":{"x":{"field":"d","type":"temporal"},"y":{"field":"p","type":"quantitative"}}},
{"data":{"values":[{"d":"2023-10-16","p":1341.8}]},"mark":{"type":"point","filled":true,"fill":"#ab47bc","opacity":1,"size":4,"strokeWidth":0,"shape":"M2,-6L-4,1H-0.5L-2,6L4,-1H0.5Z"},"encoding":{"x":{"field":"d","type":"temporal"},"y":{"field":"p","type":"quantitative"}}},
{"data":{"values":[{"d":"2024-06-26","p":1396.7}]},"mark":{"type":"point","filled":false,"stroke":"#0b5c50","strokeWidth":1,"opacity":1,"size":4,"shape":"M3,0A3,3 0 1,1 -3,0A3,3 0 1,1 3,0ZM-6,0H-4M4,0H6M0,-6V-4M0,4V6M-4.2,-4.2L-3,-3M3,3L4.2,4.2M-4.2,4.2L-3,3M3,-3L4.2,-4.2M15,-5A5,5 0 1,0 15,5A6.5,6.5 0 0,1 15,-5Z"},"encoding":{"x":{"field":"d","type":"temporal"},"y":{"field":"p","type":"quantitative"}}},
{"data":{"values":[{"d":"2017-03-16","p":1002,"t":"TradingView"}]},"mark":{"type":"text","align":"left","fontSize":12,"color":"#4a4e59","font":"Noto Sans"},"encoding":{"x":{"field":"d","type":"temporal"},"y":{"field":"p","type":"quantitative"},"text":{"field":"t"}}},
{"data":{"values":[{"d":"2017-02-03","p":1033}]},"mark":{"type":"point","filled":true,"fill":"#131722","opacity":1,"size":4,"strokeWidth":0,"shape":"M0,0H8.5V9.5H4.5V4H0ZM9.5,2A2,2 0 1,1 13.5,2A2,2 0 1,1 9.5,2ZM15,0H20L15.5,9.5H10.5Z"},"encoding":{"x":{"field":"d","type":"temporal"},"y":{"field":"p","type":"quantitative"}}}
]}
